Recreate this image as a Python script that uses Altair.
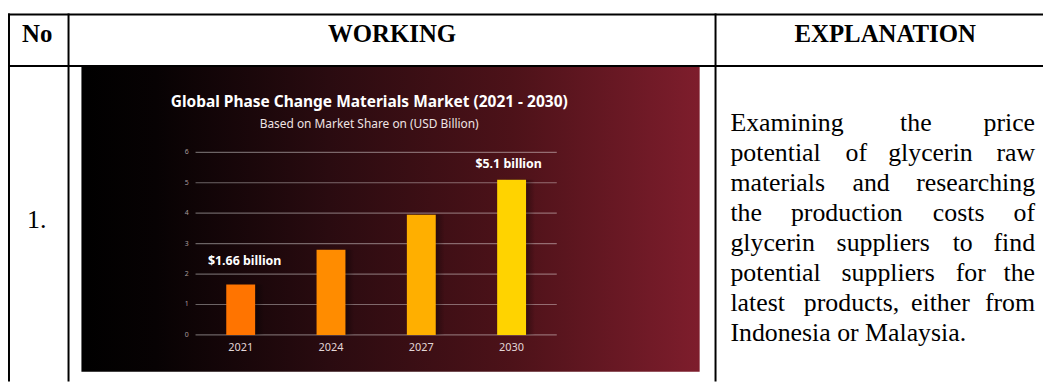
import altair as alt
import pandas as pd

# ---------------- data ----------------
years = ["2021", "2024", "2027", "2030"]
market_values = [1.66, 2.8, 3.95, 5.1]
bar_colors = ["#FF7400", "#FF8C00", "#FFAF00", "#FFD300"]
y_ticks = [0, 1, 2, 3, 4, 5, 6]
callout_years = ["2021", "2030"]
callout_texts = ["$1.66 billion", "$5.1 billion"]
chart_title = "Global Phase Change Materials Market (2021 - 2030)"
chart_subtitle = "Based on Market Share on (USD Billion)"
header_texts = ["No", "WORKING", "EXPLANATION"]
row_number = "1."
explanation_lines = [
    ["Examining", "the", "price"],
    ["potential", "of", "glycerin", "raw"],
    ["materials", "and", "researching"],
    ["the", "production", "costs", "of"],
    ["glycerin", "suppliers", "to", "find"],
    ["potential", "suppliers", "for", "the"],
    ["latest", "products,", "either", "from"],
    ["Indonesia or Malaysia."],
]

# ---------------- layout (canvas px) ----------------
W, H = 1043, 375
SERIF = "Liberation Serif"
SANS = "Noto Sans"

one = pd.DataFrame({"k": [0]})
bars_df = pd.DataFrame({"year": years, "value": market_values})
ticks_df = pd.DataFrame({"tick": y_ticks})
callout_df = pd.DataFrame({
    "year": callout_years,
    "label": callout_texts,
    "value": [market_values[years.index(y)] for y in callout_years],
})

x_scale = alt.Scale(domain=years, range=[189, 553], paddingInner=0.68, paddingOuter=0.34)
y_scale = alt.Scale(domain=[0, 6], range=[328, 144])

layers = []

# image background with gradient
bg_grad = alt.Gradient(
    gradient="linear",
    stops=[
        alt.GradientStop(color="#000000", offset=0),
        alt.GradientStop(color="#070203", offset=0.12),
        alt.GradientStop(color="#2a0b10", offset=0.4),
        alt.GradientStop(color="#4d1219", offset=0.7),
        alt.GradientStop(color="#7e1d2c", offset=1),
    ],
    x1=0, x2=1, y1=0, y2=0,
)
layers.append(
    alt.Chart(one).mark_rect(color=bg_grad).encode(
        x=alt.value(74), x2=alt.value(697), y=alt.value(58), y2=alt.value(365)
    )
)

# gridlines
layers.append(
    alt.Chart(ticks_df).mark_rule(color="rgba(255,255,255,0.38)", strokeWidth=1.2).encode(
        y=alt.Y("tick:Q", scale=y_scale, axis=None),
        x=alt.value(189), x2=alt.value(553),
    )
)
# tick labels
layers.append(
    alt.Chart(ticks_df).mark_text(align="right", baseline="middle", fontSize=7,
                                  color="#a89a9c", font=SANS).encode(
        y=alt.Y("tick:Q", scale=y_scale, axis=None),
        x=alt.value(182),
        text="tick:Q",
    )
)

# bar shadows
shadow_grad = alt.Gradient(
    gradient="linear",
    stops=[
        alt.GradientStop(color="rgba(0,0,0,0.55)", offset=0),
        alt.GradientStop(color="rgba(0,0,0,0.45)", offset=0.6),
        alt.GradientStop(color="rgba(0,0,0,0)", offset=1),
    ],
    x1=0, x2=1, y1=0, y2=0,
)
layers.append(
    alt.Chart(bars_df).mark_bar(color=shadow_grad, xOffset=9).encode(
        x=alt.X("year:N", scale=x_scale, axis=None),
        y=alt.Y("value:Q", scale=y_scale, axis=None),
    )
)
# bars
layers.append(
    alt.Chart(bars_df).mark_bar().encode(
        x=alt.X("year:N", scale=x_scale, axis=None),
        y=alt.Y("value:Q", scale=y_scale, axis=None),
        color=alt.Color("year:N", scale=alt.Scale(domain=years, range=bar_colors), legend=None),
    )
)
# year labels
layers.append(
    alt.Chart(bars_df).mark_text(fontSize=11, color="#e2d6d7", baseline="middle", font=SANS).encode(
        x=alt.X("year:N", scale=x_scale, axis=None),
        y=alt.value(341),
        text="year:N",
    )
)
# callouts
layers.append(
    alt.Chart(callout_df).transform_filter(alt.datum.year == "2021").mark_text(
        fontSize=12.5, fontWeight="bold", color="white", baseline="alphabetic", dy=-20, dx=4, font=SANS
    ).encode(
        x=alt.X("year:N", scale=x_scale, axis=None),
        y=alt.Y("value:Q", scale=y_scale, axis=None),
        text="label:N",
    )
)
layers.append(
    alt.Chart(callout_df).transform_filter(alt.datum.year == "2030").mark_text(
        fontSize=12.5, fontWeight="bold", color="white", baseline="alphabetic", dy=-12, dx=-3, font=SANS
    ).encode(
        x=alt.X("year:N", scale=x_scale, axis=None),
        y=alt.Y("value:Q", scale=y_scale, axis=None),
        text="label:N",
    )
)

# chart title / subtitle
layers.append(
    alt.Chart(one).mark_text(text=chart_title, fontSize=15.6, fontWeight="bold", color="white",
                             font=SANS, align="center", baseline="alphabetic").encode(
        x=alt.value(364), y=alt.value(98))
)
layers.append(
    alt.Chart(one).mark_text(text=chart_subtitle, fontSize=12, color="#efe3e3",
                             font=SANS, align="center", baseline="alphabetic").encode(
        x=alt.value(364), y=alt.value(119))
)

# table lines
def hline(y, x1=0, x2=W, w=2):
    return alt.Chart(one).mark_rule(color="black", strokeWidth=w).encode(
        x=alt.value(x1), x2=alt.value(x2), y=alt.value(y))

def vline(x, y1=4, y2=H, w=2):
    return alt.Chart(one).mark_rule(color="black", strokeWidth=w).encode(
        x=alt.value(x), y=alt.value(y1), y2=alt.value(y2))

layers += [hline(5), hline(57), vline(1), vline(61), vline(713)]

# header texts
header_x = [29.5, 387, 884]
for t, hx in zip(header_texts, header_x):
    layers.append(
        alt.Chart(one).mark_text(text=t, font=SERIF, fontSize=25, fontWeight="bold",
                                 color="black", align="center", baseline="alphabetic").encode(
            x=alt.value(hx), y=alt.value(33))
    )

# row number
layers.append(
    alt.Chart(one).mark_text(text=row_number, font=SERIF, fontSize=26, color="black",
                             align="center", baseline="alphabetic").encode(
        x=alt.value(29), y=alt.value(220))
)

# justified explanation text (word-by-word)
word_left = [
    [728, 899],
    [728, 844, 887],
    [728, 851],
    [728, 789, 932],
    [728, 835, 952],
    [728, 840, 955],
    [728, 802, 910],
    [728],
]
RIGHT = 1035
for i, words in enumerate(explanation_lines):
    yb = 123 + i * 30.2
    n = len(words)
    for j, wtxt in enumerate(words):
        if n > 1 and j == n - 1:
            xx, al = RIGHT, "right"
        else:
            xx, al = word_left[i][j], "left"
        layers.append(
            alt.Chart(one).mark_text(text=wtxt, font=SERIF, fontSize=26, color="black",
                                     align=al, baseline="alphabetic").encode(
                x=alt.value(xx), y=alt.value(yb))
        )

chart = alt.layer(*layers).properties(
    width=W, height=H, padding=0,
    autosize=alt.AutoSizeParams(type="none"),
    background="white",
).configure_view(stroke=None)

chart.save("out.html", embed_options={"renderer": "svg", "actions": False})
